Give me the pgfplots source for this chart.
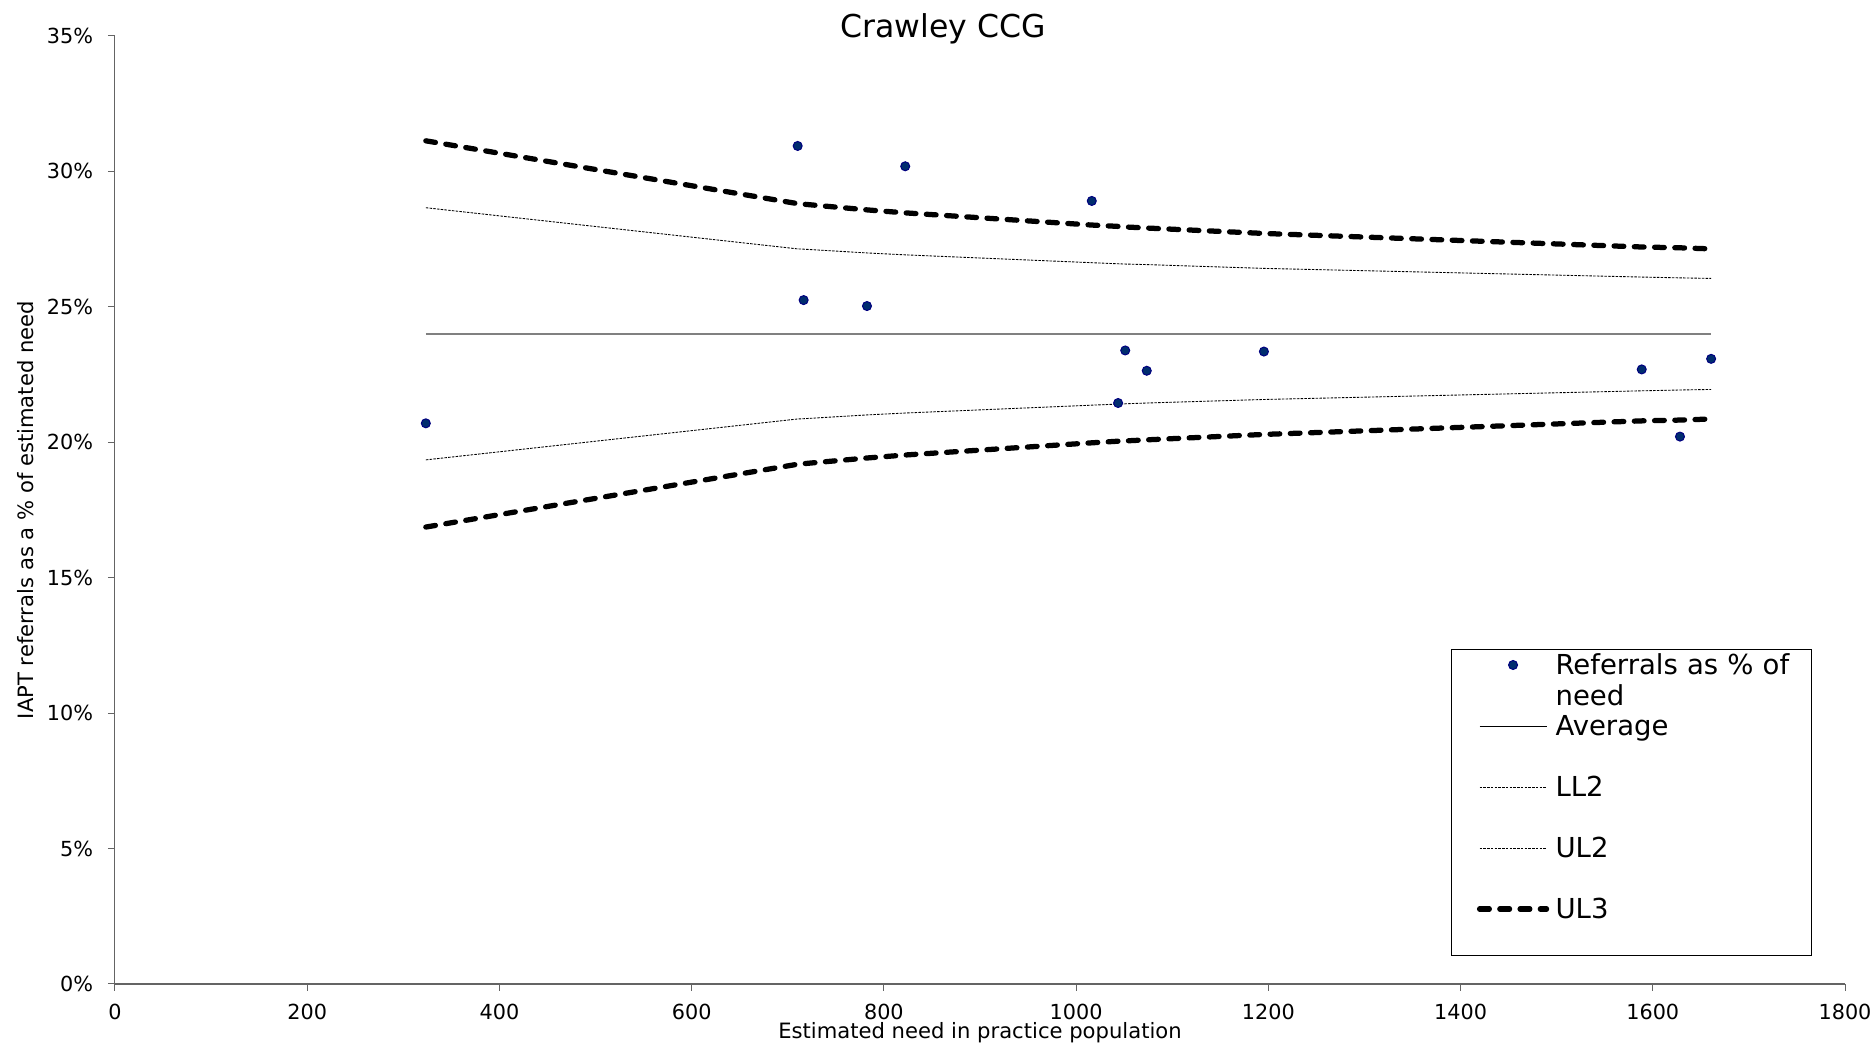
\documentclass[border=0pt]{standalone}
\usepackage{fontspec}
\setmainfont{DejaVu Sans}
\usepackage{pgfplots}
\usepackage{pgfplotstable}
\pgfplotsset{compat=1.18}
\definecolor{markfill}{RGB}{0,45,110}
\definecolor{markdraw}{RGB}{0,0,128}
\definecolor{axisgray}{RGB}{100,100,100}
\definecolor{avggray}{RGB}{128,128,128}

\pgfplotsset{
  shiftline legend/.style={legend image code/.code={\draw[##1] (0pt,3.9pt) -- (26.8pt,3.9pt);}},
  avg legend/.style={legend image code/.code={\draw[black, line width=0.4pt] (0pt,3.9pt) -- (26.8pt,3.9pt);}},
  shiftmark legend/.style={legend image code/.code={\draw[mark repeat=2, mark phase=2, ##1] plot coordinates {(0pt,3.9pt) (13.4pt,3.9pt) (26.8pt,3.9pt)};}},
}

\pgfplotstableread{
x y
323.4 20.70
710.3 30.94
716.5 25.25
782.4 25.03
822.2 30.19
1016.3 28.91
1043.7 21.45
1051.1 23.39
1073.5 22.64
1195.4 23.35
1588.5 22.69
1628.3 20.21
1660.7 23.08
}\pointtab

\pgfplotstableread{
x avg ll2 ul2 ul3 ll3
323.4 24.0 19.35 28.66 31.13 16.87
710.3 24.0 20.86 27.14 28.81 19.19
716.5 24.0 20.87 27.13 28.79 19.21
782.4 24.0 21.01 26.99 28.58 19.42
822.2 24.0 21.08 26.92 28.47 19.53
1016.3 24.0 21.37 26.63 28.02 19.98
1043.7 24.0 21.41 26.59 27.97 20.04
1051.1 24.0 21.42 26.58 27.95 20.05
1073.5 24.0 21.45 26.56 27.91 20.09
1195.4 24.0 21.58 26.42 27.71 20.29
1588.5 24.0 21.90 26.10 27.21 20.79
1628.3 24.0 21.93 26.07 27.18 20.82
1660.7 24.0 21.95 26.05 27.14 20.86
}\limtab

\begin{document}
\begin{tikzpicture}
\path[use as bounding box] (-46pt,-23.6pt) rectangle (704pt,393.6pt);
\begin{axis}[
  at={(0pt,0pt)}, anchor=south west,
  scale only axis, width=692pt, height=379.2pt,
  xmin=0, xmax=1800, ymin=0, ymax=35,
  enlargelimits=false,
  axis lines*=left,
  x axis line style={axisgray, line width=0.6pt},
  y axis line style={axisgray, line width=0.4pt},
  tick align=outside, major tick length=2.8pt,
  tick style={axisgray, line width=0.4pt},
  xtick={0,200,...,1800}, ytick={0,5,...,35},
  /pgf/number format/assume math mode=true,
  /pgf/number format/set thousands separator={},
  xticklabel={\pgfmathprintnumber{\tick}},
  yticklabel={\pgfmathprintnumber{\tick}\%},
  ticklabel style={font=\fontsize{8.3}{10}\selectfont},
  xticklabel style={anchor=base, inner sep=0pt, yshift=-11.6pt},
  yticklabel style={anchor=east, inner sep=0pt, xshift=-5.8pt},
  title={Crawley CCG},
  title style={at={(axis description cs:0.4788,0.9982)}, anchor=base, yshift=-6pt, font=\fontsize{12.6}{15}\selectfont, inner sep=0pt},
  xlabel={Estimated need in practice population},
  xlabel style={at={(axis description cs:0.5,-0.0572)}, anchor=base, font=\fontsize{8.45}{10}\selectfont, inner sep=0pt},
  ylabel={IAPT referrals as a \% of estimated need},
  ylabel style={at={(axis description cs:-0.0474,0.5)}, anchor=base, font=\fontsize{8.45}{10}\selectfont, inner sep=0pt},
  legend style={
    at={(axis description cs:0.7723,0.3531)}, anchor=north west,
    draw=black, fill=white,
    inner xsep=10.15pt, inner ysep=0.2pt,
    row sep=0pt, column sep=2.55pt,
    font=\fontsize{11}{12.3}\selectfont,
    cells={anchor=base west},
    nodes={inner sep=0pt, text width=92.1pt, text height=9.8pt, text depth=14.6pt, align=left},
  },
]
\addplot[only marks, mark=*, mark size=1.8pt, line width=0.4pt,
  mark options={fill=markfill, draw=markdraw, line width=0.4pt},
  shiftmark legend]
  table[x=x, y=y] {\pointtab};
\addlegendentry{\mbox{Referrals as \% of}\\need}

\addplot[avggray, line width=0.8pt, no marks, avg legend]
  table[x=x, y=avg] {\limtab};
\addlegendentry{Average}

\addplot[black, line width=0.35pt, dash pattern=on 1pt off 0.5pt, no marks, shiftline legend]
  table[x=x, y=ll2] {\limtab};
\addlegendentry{LL2}

\addplot[black, line width=0.35pt, dash pattern=on 1pt off 0.5pt, no marks, shiftline legend]
  table[x=x, y=ul2] {\limtab};
\addlegendentry{UL2}

\addplot[black, line width=2.1pt, dash pattern=on 3.9pt off 4.2pt, line cap=round, no marks, shiftline legend]
  table[x=x, y=ul3] {\limtab};
\addlegendentry{UL3}

\addplot[black, line width=2.1pt, dash pattern=on 3.9pt off 4.2pt, line cap=round, no marks, forget plot]
  table[x=x, y=ll3] {\limtab};
\end{axis}
\end{tikzpicture}
\end{document}
